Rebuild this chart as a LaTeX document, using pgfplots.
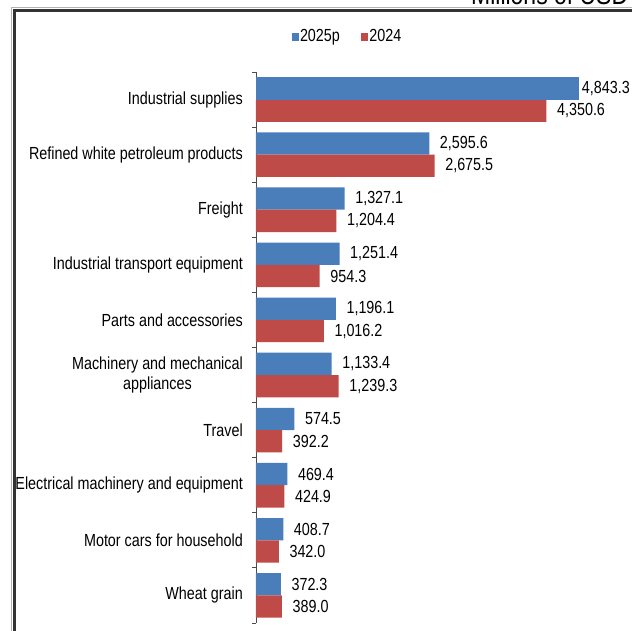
\documentclass[border=0pt]{standalone}
\usepackage{fontspec}
\setmainfont{Liberation Sans}[FakeStretch=0.82]
\usepackage{pgfplots}
\pgfplotsset{compat=1.18}
\definecolor{bblue}{HTML}{4A7EBB}
\definecolor{bred}{HTML}{BE4B48}
\begin{document}
\fontsize{17.5pt}{20.6pt}\selectfont
\begin{tikzpicture}[x=1pt,y=1pt]
\path[use as bounding box] (0,0) rectangle (632,631);
\clip (0,0) rectangle (632,631);
% frame
\draw[black!30, line width=1pt] (11.5,0) |- (632,623.2);
\draw[black!80, line width=2.6pt] (14.2,0) |- (632,620.4);
\node[anchor=base west, inner sep=0pt, font=\fontsize{28pt}{30pt}\selectfont] at (471,626.3) {Millions of USD};
\begin{axis}[
    at={(256pt,8pt)}, anchor=south west,
    scale only axis, width=400.5pt, height=551pt,
    xmin=0, xmax=6000, ymin=-0.5, ymax=9.5,
    xbar, bar width=22.3pt,
    axis x line=none, axis y line*=left,
    ytick={0,...,9},
    yticklabels={Wheat grain, Motor cars for household, Electrical machinery and equipment, Travel,
        {Machinery and mechanical\\appliances}, Parts and accessories, Industrial transport equipment,
        Freight, Refined white petroleum products, Industrial supplies},
    major tick length=0pt,
    minor ytick={-0.5,0.5,...,9.5}, minor tick length=4pt, tick align=outside,
    y axis line style={black!70, line width=0.8pt},
    minor y tick style={black!70, line width=0.8pt},
    yticklabel style={anchor=east, inner sep=0pt, xshift=-13pt, align=center},
    point meta=x, nodes near coords,
    every node near coord/.append style={anchor=west, inner sep=0pt, xshift=10.5pt, text=black},
    /pgf/number format/fixed, /pgf/number format/fixed zerofill,
    /pgf/number format/precision=1, /pgf/number format/1000 sep={,},
    /pgf/number format/assume math mode=true,
    legend columns=2,
    legend image code/.code={\fill[#1] (0pt,-3.6pt) rectangle (7.5pt,3.6pt);},
    legend style={at={(0.227,1.0635)}, anchor=center, draw=none, fill=none,
        /tikz/every even column/.append style={column sep=20pt},
        nodes={inner sep=1pt}},
    clip=false,
]
% 2025p
\addplot[fill=bblue, draw=none, bar shift=11.15pt] coordinates {
    (372.3,0) (408.7,1) (469.4,2) (574.5,3) (1133.4,4)
    (1196.1,5) (1251.4,6) (1327.1,7) (2595.6,8)
};
% 2024
\addplot[fill=bred, draw=none, bar shift=-11.15pt] coordinates {
    (389.0,0) (342.0,1) (424.9,2) (392.2,3) (1239.3,4)
    (1016.2,5) (954.3,6) (1204.4,7) (2675.5,8) (4350.6,9)
};
% largest bar, label pulled in
\addplot[fill=bblue, draw=none, bar shift=11.15pt, forget plot,
    every node near coord/.append style={xshift=-8.1pt}] coordinates {
    (4843.3,9)
};
\legend{2025p, 2024}
\end{axis}
\end{tikzpicture}
\end{document}
